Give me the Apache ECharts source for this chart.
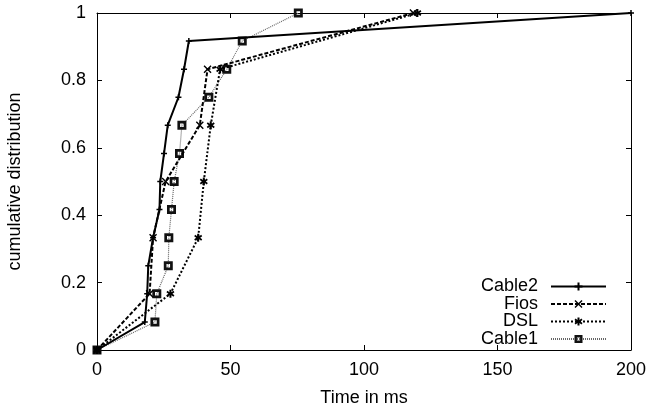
<!DOCTYPE html>
<html><head><meta charset="utf-8">
<script src="https://cdn.jsdelivr.net/npm/echarts@6/dist/echarts.min.js"></script>
<style>html,body{margin:0;padding:0;background:#fff}#c{width:652px;height:411px}</style>
</head><body><div id="c"></div>
<script>
// Data
const cable2X = [0, 17.9, 18.8, 19.2, 21.0, 23.4, 23.7, 25.1, 26.5, 30.5, 32.6, 34.4, 200];
const cable2Y = [0, 0.083, 0.167, 0.25, 0.333, 0.417, 0.5, 0.583, 0.667, 0.75, 0.833, 0.917, 1];
const fiosX = [0, 19.7, 21.0, 25.7, 38.5, 41.4, 118.5];
const fiosY = [0, 0.167, 0.333, 0.5, 0.667, 0.833, 1];
const dslX = [0, 27.5, 37.9, 40.0, 42.6, 46.1, 120];
const dslY = [0, 0.167, 0.333, 0.5, 0.667, 0.833, 1];
const cable1X = [0, 21.7, 22.4, 26.7, 26.9, 27.9, 28.9, 30.9, 31.8, 41.9, 48.6, 54.4, 75.4];
const cable1Y = [0, 0.083, 0.167, 0.25, 0.333, 0.417, 0.5, 0.583, 0.667, 0.75, 0.833, 0.917, 1];
const seriesNames = ['Cable2', 'Fios', 'DSL', 'Cable1'];
const xTicks = [0, 50, 100, 150, 200];
const yTicks = [0, 0.2, 0.4, 0.6, 0.8, 1];

const zip = (xs, ys) => xs.map((x, i) => [x, ys[i]]);
const FONT = 'Liberation Sans, Arial, sans-serif';
const FS = 18;
const plusSym = 'path://M3,0H5V3H8V5H5V8H3V5H0V3H3Z';
const xSym = 'path://M0,1L1,0L4,3L7,0L8,1L5,4L8,7L7,8L4,5L1,8L0,7L3,4Z';
const starSym = 'path://M3,0H5V2.5L7,1L8,2.5L6,4L8,5.5L7,7L5,5.5V8H3V5.5L1,7L0,5.5L2,4L0,2.5L1,1L3,2.5Z';
const boxSym = 'path://M0,0H10V10H0Z M3,3V7H7V3Z';

const chart = echarts.init(document.getElementById('c'), null, {renderer: 'canvas'});
const axisCommon = {
  type: 'value', min: 0, splitLine: {show: false},
  axisLine: {show: true, onZero: false, lineStyle: {color: '#000', width: 1}},
  axisTick: {show: true, inside: true, length: 5, lineStyle: {color: '#000'}}
};
chart.setOption({
  animation: false,
  backgroundColor: '#fff',
  grid: {left: 97, right: 21, top: 13, bottom: 61, containLabel: false, outerBoundsMode: 'none'},
  legend: {
    data: seriesNames,
    orient: 'vertical', right: 45, bottom: 63, padding: 0,
    align: 'right', itemWidth: 55, itemHeight: 10, itemGap: -0.5,
    textStyle: {fontFamily: FONT, fontSize: FS, lineHeight: 15, color: '#000', padding: [0, 8, 0, 0]}
  },
  xAxis: [
    Object.assign({}, axisCommon, {
      max: 200, interval: 50, position: 'bottom',
      name: 'Time in ms', nameLocation: 'middle', nameGap: 39,
      nameTextStyle: {fontFamily: FONT, fontSize: FS, color: '#000'},
      axisLabel: {fontFamily: FONT, fontSize: FS, color: '#000', margin: 11,
        formatter: v => xTicks.includes(v) ? String(v) : ''}
    }),
    Object.assign({}, axisCommon, {max: 200, interval: 50, position: 'top', axisLabel: {show: false}})
  ],
  yAxis: [
    Object.assign({}, axisCommon, {
      max: 1, interval: 0.2, position: 'left',
      name: 'cumulative distribution', nameLocation: 'middle', nameGap: 73,
      nameTextStyle: {fontFamily: FONT, fontSize: FS, color: '#000'},
      axisLabel: {fontFamily: FONT, fontSize: FS, color: '#000', margin: 11,
        formatter: v => { const t = yTicks.find(a => Math.abs(a - v) < 1e-9); return t === undefined ? '' : String(t); }}
    }),
    Object.assign({}, axisCommon, {max: 1, interval: 0.2, position: 'right', axisLabel: {show: false}})
  ],
  series: [
    {name: 'Cable2', type: 'line', data: zip(cable2X, cable2Y), z: 5,
     symbol: plusSym, symbolSize: 6, showAllSymbol: true,
     itemStyle: {color: '#000'}, lineStyle: {color: '#000', width: 2, type: 'solid'}},
    {name: 'Fios', type: 'line', data: zip(fiosX, fiosY), z: 4,
     symbol: xSym, symbolSize: 8, showAllSymbol: true,
     itemStyle: {color: '#000'}, lineStyle: {color: '#000', width: 2, type: [4, 2]}},
    {name: 'DSL', type: 'line', data: zip(dslX, dslY), z: 3,
     symbol: starSym, symbolSize: 8, showAllSymbol: true,
     itemStyle: {color: '#000'}, lineStyle: {color: '#000', width: 2, type: [2, 2]}},
    {name: 'Cable1', type: 'line', data: zip(cable1X, cable1Y), z: 2,
     symbol: boxSym, symbolSize: 9, showAllSymbol: true,
     itemStyle: {color: '#111'}, lineStyle: {color: '#666', width: 1.2, type: [1, 1]}}
  ]
});
</script></body></html>
